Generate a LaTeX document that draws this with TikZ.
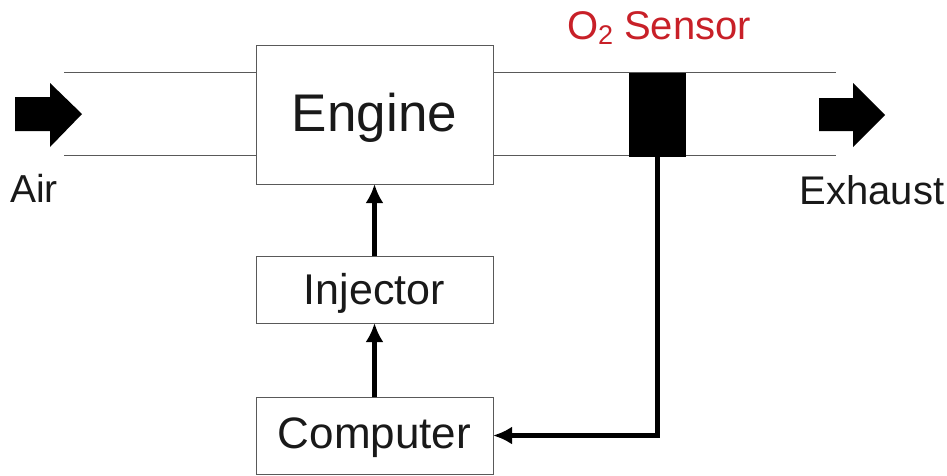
\documentclass[tikz,border=0pt]{standalone}
\usepackage{fontspec}
\setmainfont{Liberation Sans}
\usetikzlibrary{arrows.meta}
\definecolor{sensred}{RGB}{200,32,40}
\definecolor{txt}{RGB}{25,25,25}
\tikzset{
  blockbox/.style={draw=black!65, line width=1pt, fill=white, inner sep=0pt, outer sep=0pt, text=txt},
  pipe/.style={draw=black!65, line width=1pt},
  flow/.style={line width=5pt, -{Latex[length=19pt,width=18pt]}},
  bigarrow/.style={fill=black, draw=none},
  lbl/.style={text=txt, inner sep=0pt, anchor=base},
}
\begin{document}
\begin{tikzpicture}[x=1pt,y=-1pt]
\useasboundingbox (0,0) rectangle (947,475);
% pipes
\coordinate (inT) at (64,72);
\coordinate (inB) at (64,155);
\coordinate (outT) at (836,72);
\coordinate (outB) at (836,155);
\node[blockbox, minimum width=237pt, minimum height=139pt, text height=38pt, text depth=5pt, font=\fontsize{53}{60}\selectfont] (engine) at (374.5,114.5) {Engine};
\draw[pipe] (inT) -- (inT -| engine.west);
\draw[pipe] (inB) -- (inB -| engine.west);
\draw[pipe] (engine.east |- outT) -- (outT);
\draw[pipe] (engine.east |- outB) -- (outB);
% sensor
\node[fill=black, draw=none, inner sep=0pt, outer sep=0pt, minimum width=57pt, minimum height=84pt] (sensor) at (657.5,115) {};
\node[lbl, text=sensred, font=\fontsize{40}{46}\selectfont] (o2) at (659,39) {O\raisebox{-0.28ex}{\fontsize{27}{30}\selectfont 2} Sensor};
% big arrows
\path[bigarrow] (15,97) -- (50,97) -- (50,83) -- (82,114) -- (50,147) -- (50,131) -- (15,131) -- cycle;
\path[bigarrow] (819,98) -- (853,98) -- (853,83) -- (885,115) -- (853,147) -- (853,131) -- (819,131) -- cycle;
\node[lbl, font=\fontsize{39}{46}\selectfont] (air) at (34,202) {Air};
\node[lbl, font=\fontsize{40}{46}\selectfont] (exh) at (872,204) {Exhaust};
% blocks
\node[blockbox, minimum width=237pt, minimum height=67pt, text height=31pt, text depth=2pt, font=\fontsize{43}{50}\selectfont] (injector) at (374.5,289.5) {Injector};
\node[blockbox, minimum width=237pt, minimum height=77pt, text height=31pt, text depth=6pt, font=\fontsize{44}{50}\selectfont] (computer) at (374.5,435.5) {Computer};
% connectors
\draw[flow] (injector.north) -- (engine.south);
\draw[flow] (computer.north) -- (injector.south);
\draw[flow] (sensor.south) |- (computer.east);
\end{tikzpicture}
\end{document}
